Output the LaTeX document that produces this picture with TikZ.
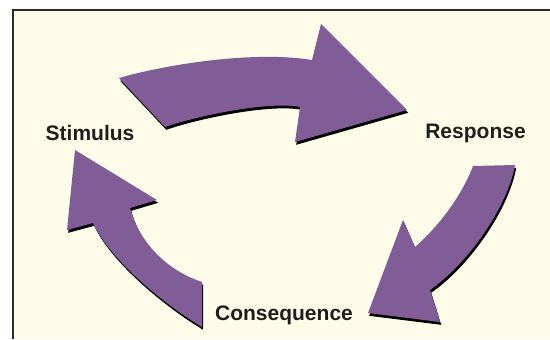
\documentclass[tikz,border=0pt]{standalone}
\usepackage{fontspec}
\setmainfont{Liberation Sans}
\definecolor{arrowpurple}{RGB}{128,93,150}
\definecolor{paper}{RGB}{255,253,233}
\definecolor{framegray}{RGB}{45,42,45}
\definecolor{labelink}{RGB}{30,30,30}
\begin{document}
\begin{tikzpicture}[x=0.5pt,y=-0.5pt,
  arrowbody/.style={fill=arrowpurple},
  arrowshadow/.style={fill=black, shift={(1.2,2.8)}},
  steplabel/.style={font=\bfseries\fontsize{10.5pt}{12pt}\selectfont, text=labelink, inner sep=0pt, anchor=base}]
  \useasboundingbox (0,0) rectangle (550,339);
  % page and panel
  \fill[white] (0,0) rectangle (550,339);
  \fill[paper] (13,10) rectangle (550,339);
  \draw[framegray, line width=1.3pt] (13,339) -- (13,10) -- (550,10);

  % outlines of the three curved arrows
  \def\cyclearrowtop{(119,78) .. controls (160,66) and (250,50) .. (312,60)
    -- (321,24) -- (407,110) -- (295,142) -- (300,107)
    .. controls (270,101) and (200,115) .. (165,127) -- cycle}
  \def\cyclearrowright{(473,166) -- (515,165)
    .. controls (508,205) and (470,262) .. (430,290)
    -- (440,322) -- (368,313) -- (403,220) -- (415,247)
    .. controls (440,225) and (462,195) .. (473,166) -- cycle}
  \def\cyclearrowleft{(75,150) -- (157,200) -- (130,208)
    .. controls (137,235) and (160,268) .. (202,282)
    -- (202,327)
    .. controls (165,305) and (110,260) .. (93,223)
    -- (67,230) -- cycle}

  % drop shadows
  \fill[arrowshadow] \cyclearrowtop;
  \fill[arrowshadow] \cyclearrowright;
  \fill[arrowshadow] \cyclearrowleft;
  % arrows
  \fill[arrowbody] \cyclearrowtop;
  \fill[arrowbody] \cyclearrowright;
  \fill[arrowbody] \cyclearrowleft;

  % labels
  \node[steplabel] (stimulus) at (90,140) {Stimulus};
  \node[steplabel] (response) at (475.5,138.5) {Response};
  \node[steplabel] (consequence) at (284,320) {Consequence};
\end{tikzpicture}
\end{document}
